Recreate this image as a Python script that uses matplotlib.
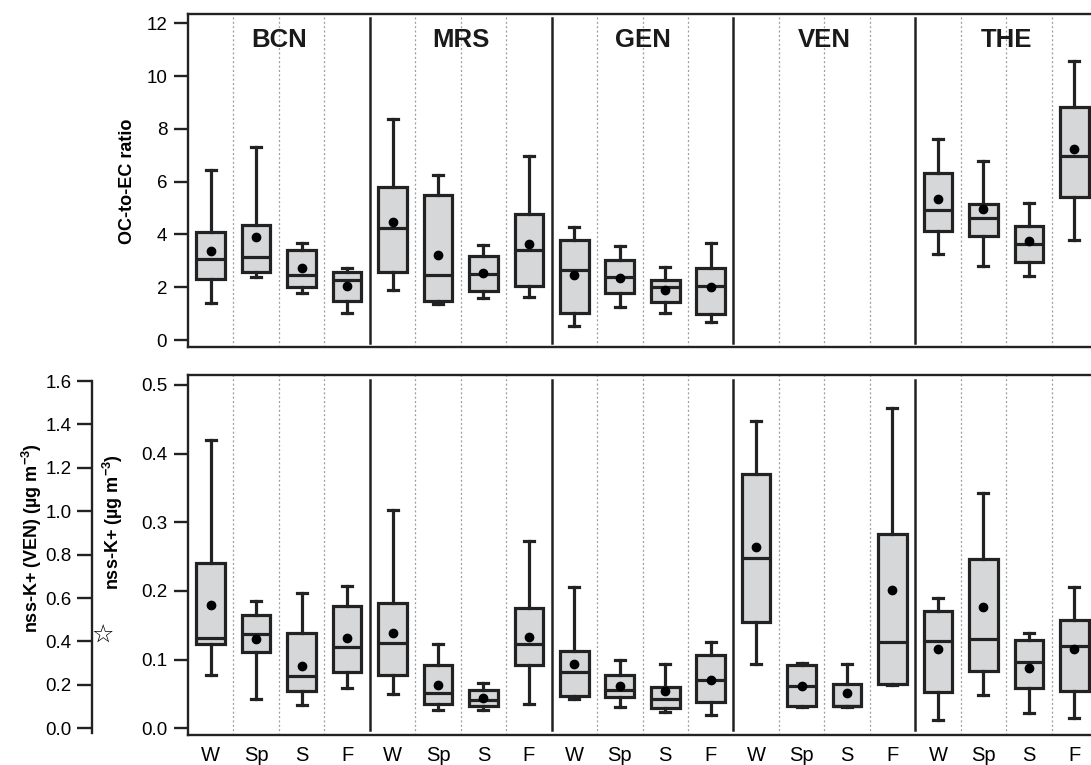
import numpy as np
import matplotlib
matplotlib.use('Agg')
import matplotlib.pyplot as plt

plt.rcParams['font.family'] = ['Liberation Sans', 'DejaVu Sans']
plt.rcParams['mathtext.fontset'] = 'custom'
plt.rcParams['mathtext.rm'] = 'Liberation Sans:bold'
plt.rcParams['mathtext.default'] = 'rm'

sites = ['BCN', 'MRS', 'GEN', 'VEN', 'THE']
seasons = ['W', 'Sp', 'S', 'F']

# box stats per season: [whisker low, q1, median, q3, whisker high, mean]
# OC-to-EC ratio (VEN has no data)
bcn_oc = [[1.39, 2.31, 3.08, 4.08, 6.43, 3.37],
          [2.37, 2.59, 3.15, 4.34, 7.32, 3.91],
          [1.77, 1.99, 2.46, 3.42, 3.68, 2.71],
          [1.01, 1.49, 2.27, 2.59, 2.74, 2.06]]
mrs_oc = [[1.89, 2.59, 4.25, 5.80, 8.36, 4.48],
          [1.36, 1.48, 2.46, 5.49, 6.25, 3.22],
          [1.60, 1.87, 2.50, 3.19, 3.60, 2.55],
          [1.64, 2.04, 3.41, 4.76, 6.96, 3.63]]
gen_oc = [[0.54, 1.01, 2.67, 3.79, 4.27, 2.48],
          [1.26, 1.79, 2.40, 3.03, 3.57, 2.36],
          [1.01, 1.45, 2.02, 2.27, 2.78, 1.89],
          [0.69, 0.98, 2.04, 2.74, 3.68, 2.02]]
the_oc = [[3.24, 4.14, 4.92, 6.31, 7.63, 5.36],
          [2.81, 3.94, 4.64, 5.17, 6.78, 4.98],
          [2.43, 2.94, 3.62, 4.33, 5.20, 3.76],
          [3.78, 5.40, 6.98, 8.81, 10.57, 7.22]]

# nss-K+ (ug m-3); VEN on its own scale (left axis)
bcn_k = [[0.077, 0.123, 0.132, 0.240, 0.420, 0.180],
         [0.042, 0.111, 0.137, 0.165, 0.185, 0.130],
         [0.034, 0.055, 0.076, 0.139, 0.197, 0.090],
         [0.059, 0.082, 0.118, 0.178, 0.207, 0.131]]
mrs_k = [[0.050, 0.078, 0.124, 0.182, 0.318, 0.139],
         [0.027, 0.036, 0.051, 0.092, 0.122, 0.063],
         [0.026, 0.032, 0.041, 0.056, 0.066, 0.044],
         [0.035, 0.092, 0.122, 0.175, 0.273, 0.133]]
gen_k = [[0.042, 0.047, 0.082, 0.113, 0.205, 0.093],
         [0.031, 0.045, 0.056, 0.077, 0.099, 0.061],
         [0.024, 0.029, 0.043, 0.060, 0.094, 0.054],
         [0.020, 0.038, 0.070, 0.106, 0.125, 0.071]]
ven_k = [[0.295, 0.491, 0.783, 1.172, 1.416, 0.837],
         [0.100, 0.104, 0.196, 0.292, 0.302, 0.196],
         [0.100, 0.104, 0.104, 0.203, 0.296, 0.161],
         [0.200, 0.204, 0.399, 0.895, 1.477, 0.637]]
the_k = [[0.012, 0.053, 0.127, 0.171, 0.189, 0.116],
         [0.049, 0.083, 0.130, 0.247, 0.342, 0.176],
         [0.022, 0.058, 0.096, 0.128, 0.139, 0.088],
         [0.015, 0.055, 0.120, 0.158, 0.205, 0.116]]


def stats(rows):
    return [dict(whislo=r[0], q1=r[1], med=r[2], q3=r[3], whishi=r[4],
                 mean=r[5], fliers=[]) for r in rows]


def draw_boxes(ax, rows, start):
    ax.bxp(stats(rows), positions=np.arange(start, start + 4),
           widths=0.63, capwidths=0.22, showmeans=True, patch_artist=True,
           boxprops=dict(facecolor='#d6d7d9', edgecolor='#222222', linewidth=2.3),
           medianprops=dict(color='#222222', linewidth=2.3),
           whiskerprops=dict(color='#222222', linewidth=2.3),
           capprops=dict(color='#222222', linewidth=2.3),
           meanprops=dict(marker='o', markerfacecolor='black',
                          markeredgecolor='black', markersize=6),
           manage_ticks=False)


def style_axes(ax, sep_gap):
    ax.set_xlim(-0.5, 19.5)
    for i in range(19):
        x = i + 0.5
        if (i + 1) % 4 == 0:
            ax.axvline(x, ymin=sep_gap, ymax=1 - sep_gap, color='#222222', lw=1.8, zorder=1)
        else:
            ax.axvline(x, color='#999999', lw=0.9, ls=(0, (1.5, 2)), zorder=1)
    for s in ax.spines.values():
        s.set_linewidth(1.7)
        s.set_color('#222222')
    ax.tick_params(axis='y', length=10, width=1.7, pad=5, labelsize=13.5, color='#222222')
    ax.tick_params(axis='x', length=0)


fig = plt.figure(figsize=(10.91, 7.65), dpi=100)
W, H = 1091, 765

# top panel
ax1 = fig.add_axes([188 / W, 1 - 347 / H, 909 / W, 333 / H])
style_axes(ax1, 0.012)
draw_boxes(ax1, bcn_oc, 0)
draw_boxes(ax1, mrs_oc, 4)
draw_boxes(ax1, gen_oc, 8)
draw_boxes(ax1, the_oc, 16)
ax1.set_ylim(-0.265, 12.35)
ax1.set_yticks(np.arange(0, 13, 2))
ax1.set_xticks([])
for g, name in enumerate(sites):
    ax1.text(g * 4 + 1.5, 0.922, name, transform=ax1.get_xaxis_transform(),
             ha='center', va='center', fontsize=18.5, fontweight='bold', color='#1a1a1a')

# bottom panel
ax2 = fig.add_axes([188 / W, 1 - 735 / H, 909 / W, 360 / H])
style_axes(ax2, 0.014)
draw_boxes(ax2, bcn_k, 0)
draw_boxes(ax2, mrs_k, 4)
draw_boxes(ax2, gen_k, 8)
draw_boxes(ax2, the_k, 16)
ax2.set_ylim(-0.00975, 0.5143)
ax2.set_yticks(np.arange(0, 0.51, 0.1))
ax2.set_yticklabels(['%.1f' % v for v in np.arange(0, 0.51, 0.1)])
ax2.set_xticks(np.arange(20))
ax2.set_xticklabels(seasons * 5, fontsize=14.5)
ax2.tick_params(axis='x', pad=8)

ven_lim = (-0.0309, 1.628)
axv = ax2.twinx()
axv.set_ylim(*ven_lim)
axv.set_xlim(-0.5, 19.5)
draw_boxes(axv, ven_k, 12)
axv.set_yticks([])
for s in axv.spines.values():
    s.set_visible(False)

# separate axis for VEN scale
axl = fig.add_axes([92.3 / W, 1 - 735 / H, 0.001, 360 / H])
axl.patch.set_visible(False)
for k in ['top', 'right', 'bottom']:
    axl.spines[k].set_visible(False)
axl.spines['left'].set_linewidth(1.7)
axl.spines['left'].set_color('#222222')
axl.set_ylim(*ven_lim)
axl.spines['left'].set_bounds(-0.02, 1.6)
axl.set_yticks(np.arange(0, 1.61, 0.2))
axl.set_yticklabels(['%.1f' % v for v in np.arange(0, 1.61, 0.2)])
axl.set_xticks([])
axl.tick_params(axis='y', length=11, width=1.7, pad=4, labelsize=13.5, color='#222222')

# labels
fig.text(127 / W, 1 - 181 / H, 'OC-to-EC ratio', rotation=90, ha='center', va='center',
         fontsize=13, fontweight='bold')
fig.text(113 / W, 1 - 522 / H, 'nss-K+ (µg m$^{-3}$)', rotation=90, ha='center', va='center',
         fontsize=13, fontweight='bold')
fig.text(32 / W, 1 - 538 / H, 'nss-K+ (VEN) (µg m$^{-3}$)', rotation=90, ha='center', va='center',
         fontsize=13, fontweight='bold')
fig.text(103 / W, 1 - 636 / H, '☆', ha='center', va='center', fontsize=18,
         family=['DejaVu Sans'])

fig.savefig('out.png', dpi=100)
